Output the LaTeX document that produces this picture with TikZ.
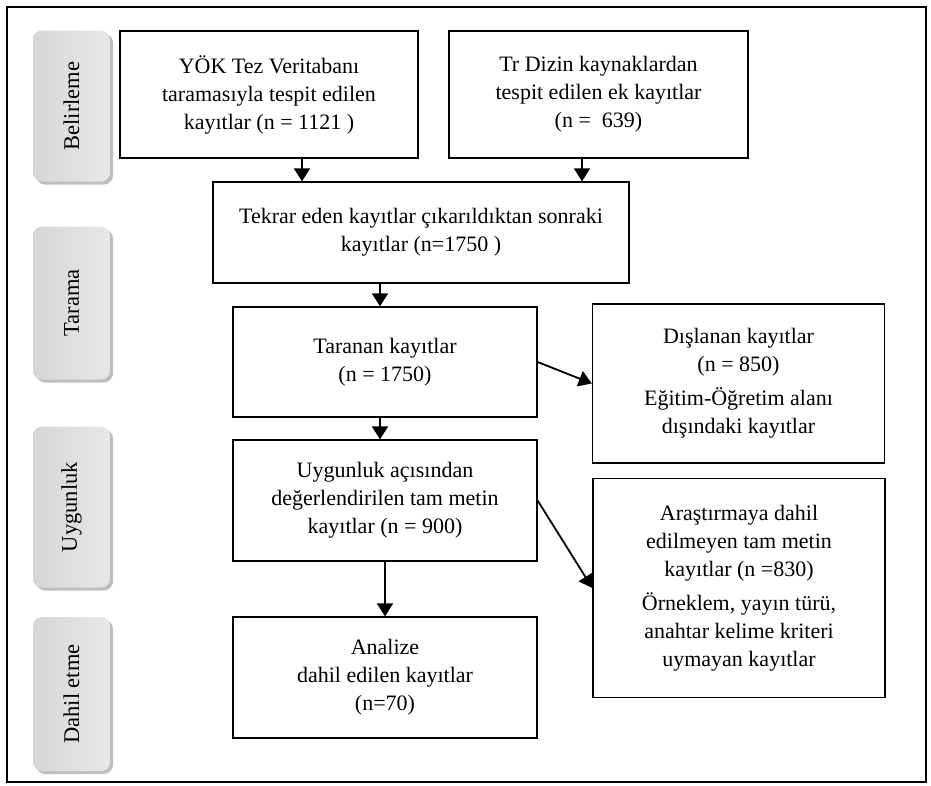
\documentclass[tikz,border=0pt]{standalone}
\usepackage{fontspec}
\setmainfont{Liberation Serif}
\usetikzlibrary{arrows.meta}
\begin{document}
\begin{tikzpicture}[x=1pt,y=-1pt,
  box/.style={draw, line width=1.3pt, align=center, inner sep=0pt, font=\fontsize{22}{28}\selectfont},
  sidebox/.style={rounded corners=9pt, left color=gray!32, middle color=gray!5, right color=gray!18, minimum width=77pt, inner sep=0pt},
  sideshadow/.style={rounded corners=9pt, fill=gray!50, minimum width=77pt, inner sep=0pt},
  sidetext/.style={rotate=90, font=\fontsize{22.5}{26}\selectfont},
  arr/.style={-{Triangle[length=13pt,width=16pt]}, line width=1.8pt}]
\useasboundingbox (0,0) rectangle (931,785);
\node[draw, line width=1.3pt, minimum width=919pt, minimum height=775pt, inner sep=0pt] (frame) at (466.5,394.5) {};
% side labels
\foreach \n/\t/\c/\h in {s1/Belirleme/106/151, s2/Tarama/303/153, s3/Uygunluk/507/161, s4/Dahil etme/694/154}{
  \node[sideshadow, minimum height=\h pt] (\n sh) at (74.5,\c+3) {};
  \node[sidebox, minimum height=\h pt] (\n) at (71.5,\c) {};
  \node[sidetext] (\n t) at (\n) {\t};
}
% boxes
\node[box, minimum width=298pt, minimum height=127pt] (yok) at (269,94.5)
  {YÖK Tez Veritabanı\\ taramasıyla tespit edilen\\ kayıtlar (n = 1121 )};
\node[box, minimum width=299pt, minimum height=127pt] (tr) at (598.5,94.5)
  {Tr Dizin kaynaklardan\\ tespit edilen ek kayıtlar\\ (n =\ \ 639)};
\node[box, minimum width=416pt, minimum height=101pt] (tek) at (421,232.5)
  {Tekrar eden kayıtlar çıkarıldıktan sonraki\\ kayıtlar (n=1750 )};
\node[box, minimum width=304pt, minimum height=110pt] (tar) at (385,362)
  {Taranan kayıtlar\\ (n = 1750)};
\node[box, minimum width=292pt, minimum height=159pt] (dis) at (738.5,383.5)
  {Dışlanan kayıtlar\\ (n = 850)\\[6pt] Eğitim-Öğretim alanı\\ dışındaki kayıtlar};
\node[box, minimum width=304pt, minimum height=121pt] (uyg) at (385,500.5)
  {Uygunluk açısından\\ değerlendirilen tam metin\\ kayıtlar (n = 900)};
\node[box, minimum width=292pt, minimum height=219pt] (ars) at (739,588)
  {Araştırmaya dahil\\ edilmeyen tam metin\\ kayıtlar (n =830)\\[6pt] Örneklem, yayın türü,\\ anahtar kelime kriteri\\ uymayan kayıtlar};
\node[box, minimum width=304pt, minimum height=121pt] (ana) at (385,677.5)
  {Analize\\ dahil edilen kayıtlar\\ (n=70)};
% arrows
\draw[arr] ([xshift=33pt]yok.south) -- ([xshift=33pt]yok.south |- tek.north);
\draw[arr] ([xshift=-16.5pt]tr.south) -- ([xshift=-16.5pt]tr.south |- tek.north);
\draw[arr] ([xshift=-5pt]tar.north |- tek.south) -- ([xshift=-5pt]tar.north);
\draw[arr] (tar.east) -- (dis.west);
\draw[arr] ([xshift=-5pt]tar.south) -- ([xshift=-5pt]uyg.north);
\draw[arr] (uyg.east) -- (ars.west);
\draw[arr] (uyg.south) -- (ana.north);
\end{tikzpicture}
\end{document}
